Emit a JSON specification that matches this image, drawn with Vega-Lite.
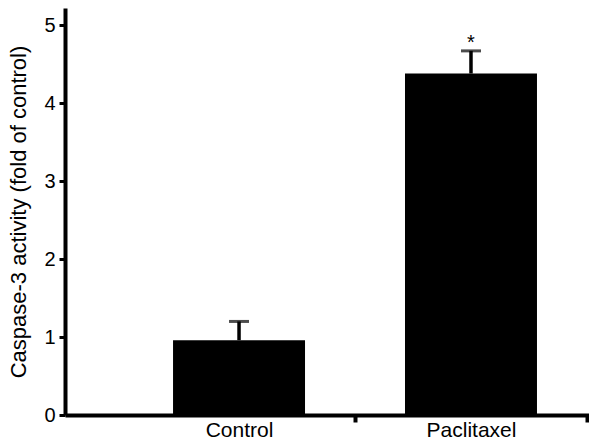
{
  "$schema": "https://vega.github.io/schema/vega-lite/v6.json",
  "width": 524,
  "height": 407,
  "autosize": {"type": "none"},
  "padding": {"left": 65, "top": 8, "right": 0, "bottom": 26},
  "config": {"view": {"stroke": null}, "font": "Liberation Sans", "axis": {"domainWidth": 4, "domainColor": "black"}},
  "data": {
    "values": [
      {"group": "Control", "mean": 0.96, "upper": 1.2, "sig": ""},
      {"group": "Paclitaxel", "mean": 4.38, "upper": 4.67, "sig": "*"}
    ]
  },
  "encoding": {
    "x": {
      "field": "group",
      "type": "nominal",
      "sort": null,
      "title": null,
      "scale": {"paddingInner": 0.431, "paddingOuter": 0.345, "align": 0.675},
      "axis": {
        "labelAngle": 0,
        "domainColor": "black",
        "domainWidth": 4,
        "tickColor": "black",
        "tickWidth": 4,
        "tickSize": 7,
        "tickOffset": 116,
        "labelOffset": -116,
        "labelPadding": -3,
        "labelFontSize": 21,
        "labelColor": "black",
        "labelFont": "Liberation Sans"
      }
    }
  },
  "layer": [
    {
      "mark": {"type": "bar", "color": "black"},
      "encoding": {
        "y": {
          "field": "mean",
          "type": "quantitative",
          "title": "Caspase-3 activity (fold of control)",
          "scale": {"domain": [0, 5.22], "nice": false},
          "axis": {
            "values": [0, 1, 2, 3, 4, 5],
            "format": "d",
            "grid": false,
            "domainColor": "black",
            "domainWidth": 4,
            "tickColor": "black",
            "tickWidth": 3,
            "tickSize": 6,
            "labelPadding": 4,
            "labelFontSize": 20,
            "labelColor": "black",
            "labelFont": "Liberation Sans",
            "titleFont": "Liberation Sans",
            "titleFontSize": 22,
            "titleFontWeight": "normal",
            "titleColor": "black",
            "titleBaseline": "alphabetic",
            "titleX": -40
          }
        }
      }
    },
    {
      "mark": {"type": "rule", "color": "black", "strokeWidth": 3.5},
      "encoding": {
        "y": {"field": "mean", "type": "quantitative", "title": "Caspase-3 activity (fold of control)"},
        "y2": {"field": "upper"}
      }
    },
    {
      "mark": {"type": "tick", "color": "black", "thickness": 3, "size": 20},
      "encoding": {
        "y": {"field": "upper", "type": "quantitative", "title": "Caspase-3 activity (fold of control)"}
      }
    },
    {
      "mark": {"type": "text", "fontSize": 20, "baseline": "alphabetic", "dy": -2, "color": "black", "font": "Liberation Sans"},
      "encoding": {
        "y": {"field": "upper", "type": "quantitative", "title": "Caspase-3 activity (fold of control)"},
        "text": {"field": "sig"}
      }
    }
  ]
}
